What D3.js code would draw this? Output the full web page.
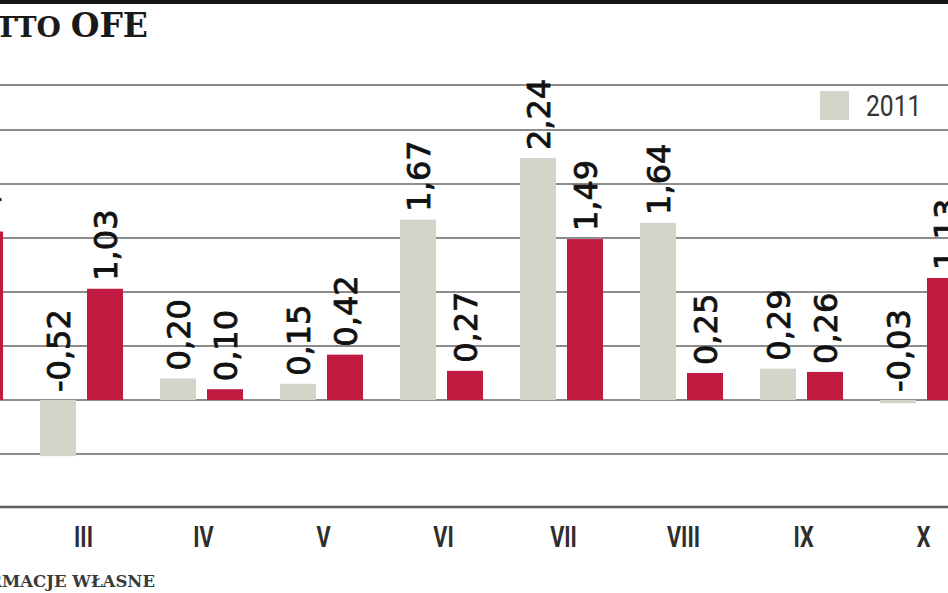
<!DOCTYPE html>
<html>
<head>
<meta charset="utf-8">
<script src="https://cdn.jsdelivr.net/npm/d3@7"></script>
<style>
  body { margin:0; background:#fff; }
  svg { display:block; }
</style>
</head>
<body>
<script>
// miesiace (wykres jest przyciety z lewej i prawej strony)
var months = ['II','III','IV','V','VI','VII','VIII','IX','X'];
var seriesNames = ['2011','2012'];
var values2011 = [null, -0.52, 0.20, 0.15, 1.67, 2.24, 1.64, 0.29, -0.03];
var values2012 = [1.56, 1.03, 0.10, 0.42, 0.27, 1.49, 0.25, 0.26, 1.13];
var gridValues = [-0.5, 0, 0.5, 1, 1.5, 2, 2.5];
var colors = ['#d3d4ca', '#c01a41'];

var params = {
  width:948
, height:593
}

var svg = d3.select('body').append('svg')
  .attr('width', params.width)
  .attr('height', params.height);

var x0 = d3.scaleBand()
  .domain(months)
  .range([-98.5, 981.5]);

var x1 = d3.scaleBand()
  .domain(seriesNames)
  .range([18.5, 101.5])
  .paddingInner(0.234);

var y = d3.scaleLinear()
  .domain([-1, 2.5])
  .range([508, 130]);

var fmt = function(v) { return d3.format('.2f')(v).replace('.', ',').replace('\u2212', '-'); };

// gorna czarna linia
svg.append('rect')
  .attr('x', 0).attr('y', 0)
  .attr('width', params.width).attr('height', 4)
  .attr('fill', '#161616');

// tytul (male kapitaliki + OFE)
var title = svg.append('text')
  .attr('x', 148).attr('y', 37)
  .attr('text-anchor', 'end')
  .style('font-family', '"DejaVu Serif", serif')
  .style('font-weight', 'bold')
  .attr('fill', '#1a1a1a');
title.append('tspan')
  .style('font-size', '28px')
  .text('WPŁYWY NETTO ');
title.append('tspan')
  .style('font-size', '33px')
  .text('OFE');

// siatka
svg.append('line')
  .attr('x1', 0).attr('x2', params.width)
  .attr('y1', 85).attr('y2', 85)
  .attr('stroke', '#8c8c8c').attr('stroke-width', 2);

svg.selectAll('.grid')
  .data(gridValues)
  .enter().append('line')
  .attr('class', 'grid')
  .attr('x1', 0).attr('x2', params.width)
  .attr('y1', function(d) { return Math.round(y(d)); })
  .attr('y2', function(d) { return Math.round(y(d)); })
  .attr('stroke', '#8c8c8c')
  .attr('stroke-width', 2);

svg.append('line')
  .attr('x1', 0).attr('x2', params.width)
  .attr('y1', 507).attr('y2', 507)
  .attr('stroke', '#5e5e5e')
  .attr('stroke-width', 2.5);

// dane w tabeli
var table = months.map(function(m, i) {
  return { month:m, values:[
    { series:seriesNames[0], value:values2011[i] },
    { series:seriesNames[1], value:values2012[i] }
  ]};
});

var groups = svg.selectAll('.group')
  .data(table)
  .enter().append('g')
  .attr('class', 'group')
  .attr('transform', function(d) { return 'translate(' + x0(d.month) + ',0)'; });

var cells = groups.selectAll('.cell')
  .data(function(d) { return d.values.filter(function(v) { return v.value !== null; }); })
  .enter();

cells.append('rect')
  .attr('x', function(d) { return x1(d.series); })
  .attr('y', function(d) { return y(Math.max(0, d.value)); })
  .attr('width', x1.bandwidth())
  .attr('height', function(d) { return Math.abs(y(d.value) - y(0)); })
  .attr('fill', function(d) { return colors[seriesNames.indexOf(d.series)]; });

cells.append('text')
  .attr('transform', function(d) {
    var tx = x1(d.series) + x1.bandwidth() / 2;
    var ty = Math.min(y(d.value), y(0)) - 8;
    return 'translate(' + tx + ',' + ty + ') rotate(-90)';
  })
  .attr('dy', '0.36em')
  .style('font-family', '"DejaVu Sans", sans-serif')
  .style('font-size', '32px')
  .attr('fill', '#111')
  .attr('stroke', '#111')
  .attr('stroke-width', 0.8)
  .text(function(d) { return fmt(d.value); });

// etykiety miesiecy
svg.selectAll('.month')
  .data(months)
  .enter().append('text')
  .attr('class', 'month')
  .attr('transform', function(d) {
    return 'translate(' + (x0(d) + x0.bandwidth() / 2 + 2) + ',547) scale(0.72,1)';
  })
  .attr('text-anchor', 'middle')
  .style('font-family', 'Roboto, sans-serif')
  .style('font-weight', 'bold')
  .style('font-size', '30px')
  .attr('fill', '#2e2e2e')
  .text(function(d) { return d; });

// legenda
var legend = svg.selectAll('.legend')
  .data(seriesNames)
  .enter().append('g')
  .attr('class', 'legend')
  .attr('transform', function(d, i) { return 'translate(' + (820 + i * 130) + ',91)'; });

legend.append('rect')
  .attr('width', 29).attr('height', 29)
  .attr('fill', function(d, i) { return colors[i]; });

legend.append('text')
  .attr('transform', 'translate(46,25) scale(0.85,1)')
  .style('font-family', 'Roboto, sans-serif')
  .style('font-size', '29px')
  .attr('fill', '#333')
  .text(function(d) { return d; });

// zrodlo
svg.append('text')
  .attr('x', 155).attr('y', 587)
  .attr('text-anchor', 'end')
  .style('font-family', '"DejaVu Serif", serif')
  .style('font-weight', 'bold')
  .style('font-size', '16.5px')
  .attr('fill', '#3a3a3a')
  .text('ŹRÓDŁO: INFORMACJE WŁASNE');
</script>
</body>
</html>
